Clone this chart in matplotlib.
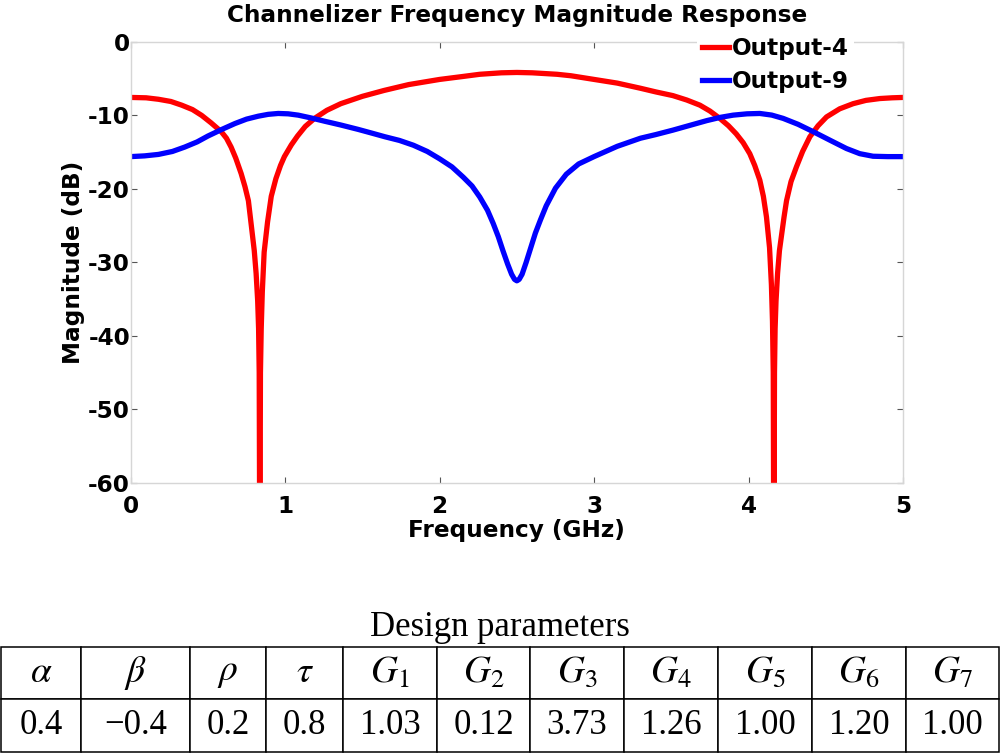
import numpy as np
import matplotlib
matplotlib.use("Agg")
import matplotlib.pyplot as plt

# values
freq_out4 = [0.0, 0.1, 0.18, 0.26, 0.33, 0.40, 0.46, 0.52, 0.586, 0.62, 0.65, 0.68,
             0.715, 0.74, 0.762, 0.79, 0.80, 0.812, 0.822, 0.828, 0.832, 0.836,
             0.840, 0.845, 0.852, 0.864, 0.886, 0.91, 0.94, 0.97, 0.995, 1.04, 1.08,
             1.13, 1.19, 1.27, 1.36, 1.5, 1.64, 1.8, 2.0, 2.15, 2.26, 2.4, 2.5, 2.6,
             2.76, 2.85, 3.0, 3.15, 3.30, 3.4, 3.51, 3.60, 3.685, 3.75, 3.814, 3.87,
             3.92, 3.965, 4.008, 4.04, 4.073, 4.096, 4.116, 4.136, 4.148, 4.155,
             4.160, 4.164, 4.168, 4.172, 4.178, 4.188, 4.20, 4.213, 4.23, 4.246,
             4.275, 4.31, 4.35, 4.397, 4.45, 4.505, 4.59, 4.677, 4.76, 4.85, 4.93, 5.0]
mag_out4 = [-7.55, -7.6, -7.8, -8.1, -8.6, -9.2, -10.0, -11.0, -12.2, -13.1, -14.3, -15.8,
            -17.9, -19.7, -21.6, -26.6, -28.4, -31.5, -35.2, -39, -45, -75,
            -45, -39, -34, -28.6, -24.5, -21.0, -18.6, -16.8, -15.6, -14.0, -12.8,
            -11.5, -10.4, -9.3, -8.4, -7.4, -6.6, -5.8, -5.1, -4.7, -4.4, -4.2, -4.15, -4.2,
            -4.4, -4.6, -5.1, -5.6, -6.3, -6.8, -7.3, -7.9, -8.6, -9.4, -10.4, -11.4,
            -12.5, -13.7, -15.2, -16.8, -18.8, -21.0, -23.8, -28.0, -33, -38,
            -45, -75, -45, -39, -35.2, -31.5, -28.4, -26.4, -23.8, -21.6,
            -19.0, -17.0, -14.9, -12.9, -11.4, -10.2, -9.1, -8.4, -7.95, -7.7, -7.6, -7.55]

freq_out9 = [0.0, 0.09, 0.18, 0.27, 0.35, 0.43, 0.50, 0.59, 0.675, 0.75, 0.826, 0.89,
             0.955, 1.02, 1.085, 1.17, 1.258, 1.36, 1.473, 1.56, 1.646, 1.74, 1.83,
             1.92, 2.0, 2.08, 2.153, 2.21, 2.26, 2.31, 2.347, 2.38, 2.41, 2.44, 2.466,
             2.485, 2.50, 2.515, 2.534, 2.56, 2.59, 2.62, 2.653, 2.69, 2.75, 2.82,
             2.9, 3.0, 3.15, 3.30, 3.40, 3.51, 3.62, 3.73, 3.82, 3.90, 3.99, 4.073,
             4.15, 4.224, 4.32, 4.418, 4.53, 4.634, 4.72, 4.806, 4.9, 5.0]
mag_out9 = [-15.6, -15.5, -15.3, -14.9, -14.3, -13.6, -12.8, -11.9, -11.1, -10.5, -10.1, -9.85,
            -9.73, -9.78, -9.96, -10.35, -10.8, -11.3, -11.9, -12.4, -12.9, -13.4, -14.05,
            -14.9, -15.9, -17.0, -18.4, -19.6, -21.1, -22.9, -24.7, -26.5, -28.4, -30.2, -31.6,
            -32.3, -32.5, -32.3, -31.6, -30.0, -28.0, -26.0, -24.2, -22.3, -19.9, -18.0,
            -16.6, -15.6, -14.2, -13.1, -12.6, -12.0, -11.35, -10.7, -10.25, -9.96, -9.78, -9.73,
            -9.95, -10.4, -11.2, -12.2, -13.4, -14.5, -15.2, -15.55, -15.6, -15.6]

x_ticks = [0, 1, 2, 3, 4, 5]
y_ticks = [0, -10, -20, -30, -40, -50, -60]

param_names = [r'$\alpha$', r'$\beta$', r'$\rho$', r'$\tau$', r'$G_1$', r'$G_2$',
               r'$G_3$', r'$G_4$', r'$G_5$', r'$G_6$', r'$G_7$']
param_values = ['0.4', '\u22120.4', '0.2', '0.8', '1.03', '0.12', '3.73', '1.26',
                '1.00', '1.20', '1.00']
col_widths = [80, 109, 76, 77, 94, 93, 94, 94, 94, 94, 93]

plt.rcParams['font.family'] = 'DejaVu Sans'
plt.rcParams['axes.unicode_minus'] = False
plt.rcParams['mathtext.fontset'] = 'stix'

fs = 16.7

fig = plt.figure(figsize=(10, 7.53), dpi=100)
ax = fig.add_axes([0.1307, 0.3586, 0.7723, 0.5857])

ax.plot(freq_out4, mag_out4, color='#ff0000', lw=3.8, label='Output-4')
ax.plot(freq_out9, mag_out9, color='#0000ff', lw=3.8, label='Output-9')

ax.set_xlim(0, 5)
ax.set_ylim(-60, 0)
ax.set_xticks(x_ticks)
ax.set_yticks(y_ticks)
for s in ax.spines.values():
    s.set_color('#d6d6d6')
    s.set_linewidth(1.0)
ax.tick_params(direction='in', length=4, width=0.8, color='#555555',
               top=True, right=True, labelsize=fs)
ax.tick_params(axis='x', pad=8.5)
ax.tick_params(axis='y', pad=0.5)
for lbl in ax.get_xticklabels() + ax.get_yticklabels():
    lbl.set_fontweight('bold')

ax.set_title('Channelizer Frequency Magnitude Response', fontsize=fs,
             fontweight='bold', pad=14)
ax.set_xlabel('Frequency (GHz)', fontsize=fs, fontweight='bold', labelpad=1)
ax.set_ylabel('Magnitude (dB)', fontsize=fs, fontweight='bold', labelpad=2.5)

ax.legend(loc='upper right', bbox_to_anchor=(0.854, 0.957),
          bbox_transform=fig.transFigure, frameon=True, fancybox=False,
          edgecolor='none', facecolor='white', framealpha=1,
          handlelength=1.2, handletextpad=0.13, labelspacing=0.45,
          borderpad=0.2, borderaxespad=0,
          prop=dict(weight='bold', size=fs))

# parameter table
fig.text(0.5, 1 - 627 / 753, 'Design parameters', family='Liberation Serif',
         fontsize=25, ha='center', va='center')

tax = fig.add_axes([0.001, 1 - 752 / 753, 0.998, (752 - 646.5) / 753])
tax.axis('off')
tbl = tax.table(cellText=[param_names, param_values],
                colWidths=[w / sum(col_widths) for w in col_widths],
                cellLoc='center', bbox=[0, 0, 1, 1])
tbl.auto_set_font_size(False)
for (r, c), cell in tbl.get_celld().items():
    cell.set_edgecolor('black')
    cell.set_linewidth(1.1)
    t = cell.get_text()
    t.set_fontsize(27 if r == 0 else 25)
    t.set_family('Liberation Serif')

fig.savefig('out.png', dpi=100)
